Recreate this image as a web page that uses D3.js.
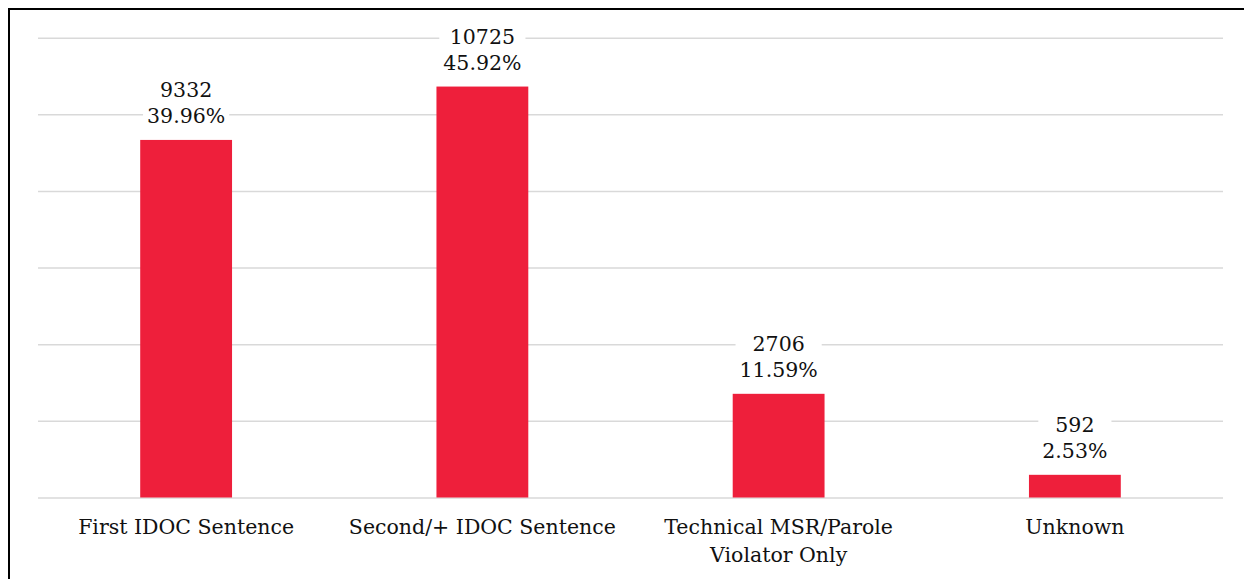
<!DOCTYPE html>
<html>
<head>
<meta charset="utf-8">
<script src="https://cdn.jsdelivr.net/npm/d3@7"></script>
<style>
  body { margin: 0; background: #fff; }
  svg { display: block; }
</style>
</head>
<body>
<div id="chart"></div>
<script>
// data
var categories = ["First IDOC Sentence", "Second/+ IDOC Sentence", "Technical MSR/Parole Violator Only", "Unknown"];
var counts = [9332, 10725, 2706, 592];
var percents = ["39.96%", "45.92%", "11.59%", "2.53%"];
var yTicks = [0, 2000, 4000, 6000, 8000, 10000, 12000];

var W = 1246, H = 579;
var margin = {top: 37.7, right: 23, bottom: 81.5, left: 38},
    width = W - margin.left - margin.right,
    height = H - margin.top - margin.bottom;

var font = "'DejaVu Serif', serif";

var root = d3.select("#chart")
    .append("svg")
    .attr("width", W)
    .attr("height", H);

// outer frame (only top and left edges are visible in the reference)
root.append("line").attr("x1", 8).attr("x2", 1244).attr("y1", 9).attr("y2", 9)
    .attr("stroke", "#000").attr("stroke-width", 2);
root.append("line").attr("x1", 9).attr("x2", 9).attr("y1", 8).attr("y2", H)
    .attr("stroke", "#000").attr("stroke-width", 2);

var svg = root.append("g")
    .attr("transform", `translate(${margin.left},${margin.top})`);

var data = categories.map((c, i) => ({cat: c, count: counts[i], pct: percents[i]}));

// X axis
var x = d3.scaleBand()
    .domain(categories)
    .range([0, width])
    .paddingInner(0.69)
    .paddingOuter(0.345);

// Y axis
var y = d3.scaleLinear()
    .domain([0, 12000])
    .range([height, 0]);

// gridlines
var grid = svg.append("g")
    .call(d3.axisLeft(y).tickValues(yTicks).tickSize(-width).tickFormat(""));
grid.select(".domain").remove();
grid.selectAll(".tick line")
    .attr("stroke", "#d9d9d9")
    .attr("stroke-width", 1.5);

// bars
svg.append("g")
    .selectAll("rect")
    .data(data)
    .join("rect")
    .attr("x", d => x(d.cat))
    .attr("y", d => y(d.count))
    .attr("width", x.bandwidth())
    .attr("height", d => height - y(d.count))
    .attr("fill", "#ee1f3b");

// data labels with white backing
var lab = svg.append("g")
    .selectAll("g")
    .data(data)
    .join("g")
    .attr("transform", d => `translate(${x(d.cat) + x.bandwidth() / 2},${y(d.count)})`);

var labText = lab.append("text")
    .attr("text-anchor", "middle")
    .style("font-family", font)
    .style("font-size", "20.5px")
    .attr("fill", "#111");
labText.append("tspan").attr("x", 0).attr("y", -43).text(d => d.count);
labText.append("tspan").attr("x", 0).attr("y", -17).text(d => d.pct);

lab.each(function() {
  var g = d3.select(this);
  var b = g.select("text").node().getBBox();
  g.insert("rect", "text")
    .attr("x", b.x - 4)
    .attr("y", b.y - 2)
    .attr("width", b.width + 8)
    .attr("height", b.height + 4)
    .attr("fill", "#fff");
});

// category labels, wrapped to the band step
var catLab = svg.append("g")
    .selectAll("text")
    .data(data)
    .join("text")
    .attr("text-anchor", "middle")
    .attr("transform", d => `translate(${x(d.cat) + x.bandwidth() / 2},${height + 36.5})`)
    .style("font-family", font)
    .style("font-size", "20.5px")
    .attr("fill", "#111");

catLab.each(function(d) {
  var t = d3.select(this);
  var words = d.cat.split(" ");
  var lines = [], line = [];
  var probe = t.append("tspan");
  words.forEach(w => {
    line.push(w);
    probe.text(line.join(" "));
    if (probe.node().getComputedTextLength() > x.step() - 20 && line.length > 1) {
      line.pop();
      lines.push(line.join(" "));
      line = [w];
    }
  });
  lines.push(line.join(" "));
  probe.remove();
  lines.forEach((l, i) => {
    t.append("tspan").attr("x", 0).attr("y", i * 28).text(l);
  });
});
</script>
</body>
</html>
